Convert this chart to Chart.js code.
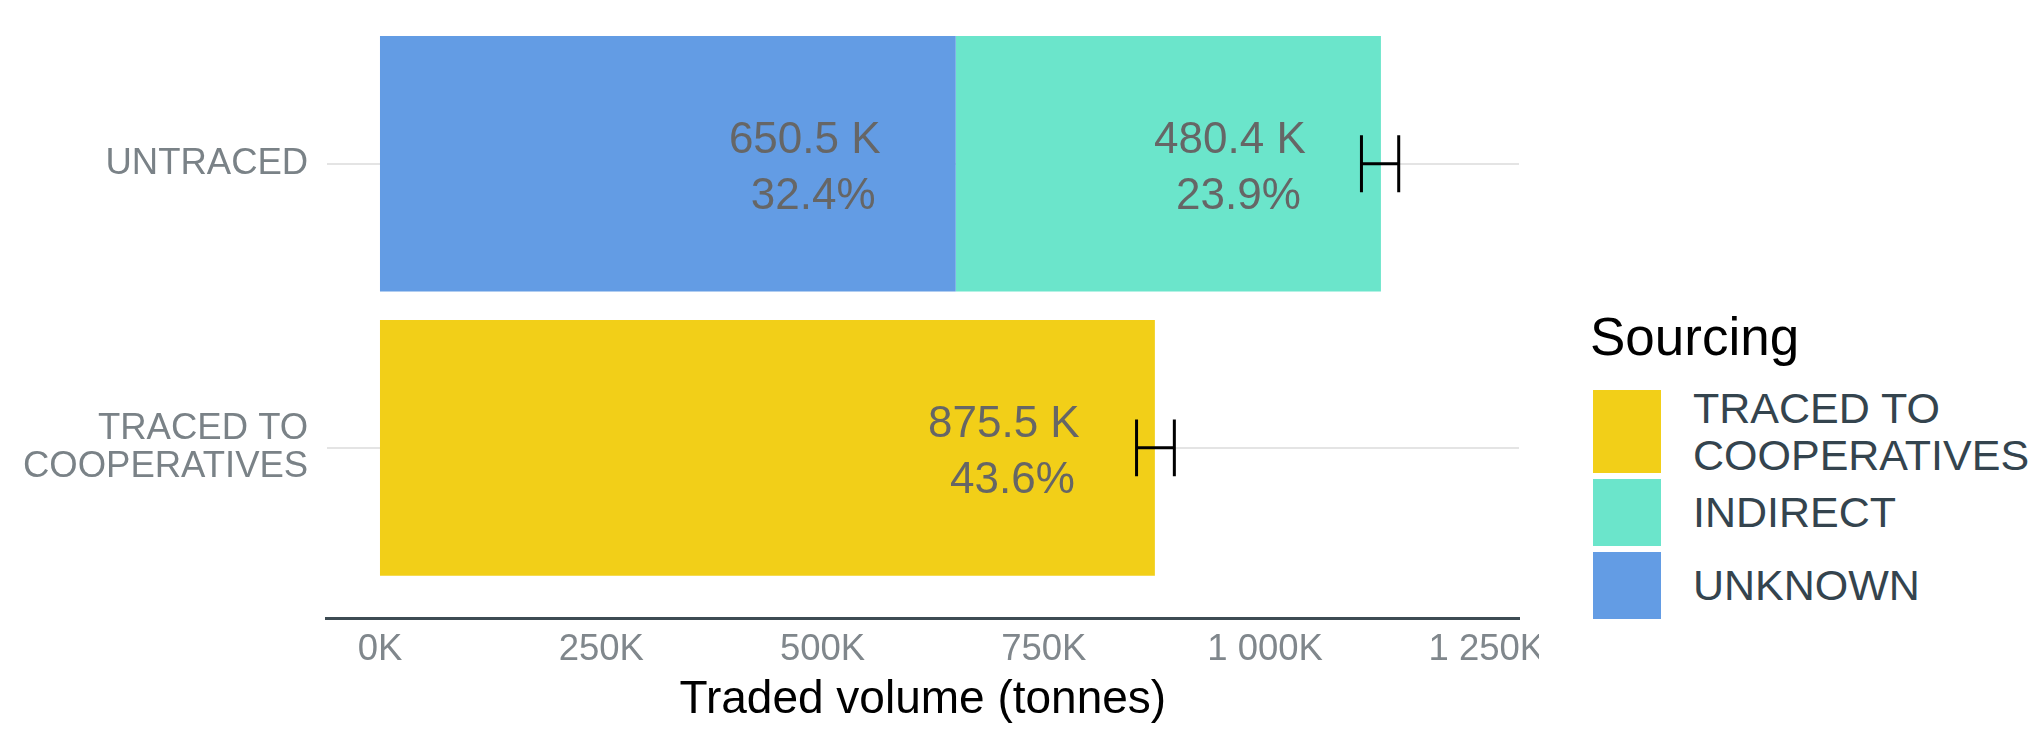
<!DOCTYPE html>
<html>
<head>
<meta charset="utf-8">
<script src="https://cdn.jsdelivr.net/npm/chart.js@4.4.1/dist/chart.umd.min.js"></script>
<style>
  html, body { margin: 0; padding: 0; background: #ffffff; }
  body { width: 2041px; height: 730px; position: relative; overflow: hidden; font-family: "Liberation Sans", Arial, sans-serif; }
  #clip { position: absolute; left: 0; top: 0; width: 1539px; height: 730px; overflow: hidden; }
  #holder { position: absolute; left: 0; top: 0; width: 1600px; height: 730px; }
  #legend { position: absolute; left: 1593px; top: 0; }
  #legend .title { position: absolute; left: -3px; top: 310px; font-size: 53px; line-height: 53px; color: #000000; white-space: nowrap; }
  #legend .item { position: absolute; left: 0; display: flex; align-items: center; }
  #legend .sw { width: 68px; flex: none; }
  #legend .lab { position: absolute; left: 100px; font-size: 43px; line-height: 47px; color: #34444e; white-space: nowrap; }
</style>
</head>
<body>
<div id="clip"><div id="holder"><canvas id="c"></canvas></div></div>
<div id="legend"></div>
<script>
// ---- data ----
const categories = ['TRACED TO COOPERATIVES', 'UNTRACED'];
const categoryPositions = [1, 2];
const categoryTickLabels = [['TRACED TO', 'COOPERATIVES'], 'UNTRACED'];

const seriesNames = ['UNKNOWN', 'INDIRECT', 'TRACED TO COOPERATIVES'];
const unknownValues = [null, 650.5];
const indirectValues = [null, 480.4];
const tracedValues = [875.5, null];

const unknownPct = [null, '32.4%'];
const indirectPct = [null, '23.9%'];
const tracedPct = ['43.6%', null];

const errorLow = [854.8, 1108.9];
const errorHigh = [897.5, 1151.0];

const xTickValues = [0, 250, 500, 750, 1000, 1250];
const xTickLabels = ['0K', '250K', '500K', '750K', '1 000K', '1 250K'];

const legendNames = [['TRACED TO', 'COOPERATIVES'], ['INDIRECT'], ['UNKNOWN']];

// ---- styles ----
const COLORS = { unknown: '#639ce4', indirect: '#6be5cb', traced: '#f2cf18' };
const FONT = '"Liberation Sans", Arial, sans-serif';

function toPoints(vals) {
  return categoryPositions.map((p, i) => vals[i] == null ? null : ({ x: vals[i], y: p })).filter(d => d);
}
function toPct(arr) { return arr.filter(v => v != null); }

const datasets = [
  { label: seriesNames[0], data: toPoints(unknownValues), backgroundColor: COLORS.unknown, pct: toPct(unknownPct) },
  { label: seriesNames[1], data: toPoints(indirectValues), backgroundColor: COLORS.indirect, pct: toPct(indirectPct) },
  { label: seriesNames[2], data: toPoints(tracedValues), backgroundColor: COLORS.traced, pct: toPct(tracedPct) }
];

const labelPlugin = {
  id: 'barLabels',
  afterDatasetsDraw(chart) {
    const ctx = chart.ctx;
    ctx.save();
    ctx.font = '44px ' + FONT;
    ctx.fillStyle = '#666666';
    ctx.textAlign = 'center';
    ctx.textBaseline = 'alphabetic';
    chart.data.datasets.forEach((ds, di) => {
      const meta = chart.getDatasetMeta(di);
      meta.data.forEach((el, j) => {
        const v = ds.data[j].x;
        ctx.fillText(v.toFixed(1) + ' K', el.x - 151, el.y - 11);
        ctx.fillText(ds.pct[j], el.x - 142.5, el.y + 45);
      });
    });
    ctx.restore();
  }
};

const errorPlugin = {
  id: 'errorBars',
  afterDatasetsDraw(chart) {
    const ctx = chart.ctx;
    const xs = chart.scales.x, ys = chart.scales.y;
    ctx.save();
    ctx.strokeStyle = '#000000';
    ctx.lineWidth = 3;
    categoryPositions.forEach((p, i) => {
      const x1 = xs.getPixelForValue(errorLow[i]);
      const x2 = xs.getPixelForValue(errorHigh[i]);
      const yc = ys.getPixelForValue(p);
      const yt = ys.getPixelForValue(p + 0.1);
      const yb = ys.getPixelForValue(p - 0.1);
      ctx.beginPath();
      ctx.moveTo(x1, yt); ctx.lineTo(x1, yb);
      ctx.moveTo(x2, yt); ctx.lineTo(x2, yb);
      ctx.moveTo(x1, yc); ctx.lineTo(x2, yc);
      ctx.stroke();
    });
    ctx.restore();
  }
};

new Chart(document.getElementById('c'), {
  type: 'bar',
  data: { datasets },
  options: {
    indexAxis: 'y',
    responsive: true,
    maintainAspectRatio: false,
    animation: false,
    devicePixelRatio: 1,
    categoryPercentage: 1.0,
    barPercentage: 0.9,
    layout: { padding: { left: 0, right: 81, top: 0, bottom: 0 } },
    plugins: { legend: { display: false }, tooltip: { enabled: false } },
    scales: {
      x: {
        type: 'linear',
        stacked: true,
        offset: false,
        min: -60.2,
        max: 1286.9,
        afterBuildTicks: (s) => { s.ticks = xTickValues.map(v => ({ value: v })); },
        afterFit: (s) => { s.height = 111.7; s.paddingLeft = 0; s.paddingRight = 0; },
        grid: { display: false, drawTicks: false, offset: false },
        border: { display: true, color: '#3d4b53', width: 3 },
        ticks: {
          padding: 10,
          color: '#80878c',
          font: { family: FONT, size: 36.5 },
          maxRotation: 0,
          autoSkip: false,
          callback: (v) => { const k = xTickValues.indexOf(v); return k >= 0 ? xTickLabels[k] : ''; }
        },
        title: {
          display: true,
          text: 'Traded volume (tonnes)',
          color: '#000000',
          font: { family: FONT, size: 46 },
          padding: { top: 0, bottom: 2 }
        }
      },
      y: {
        type: 'linear',
        stacked: true,
        offset: false,
        min: 0.4,
        max: 2.5765,
        afterBuildTicks: (s) => { s.ticks = categoryPositions.map(v => ({ value: v })); },
        afterFit: (s) => { s.width = 326.7; s.paddingTop = 0; s.paddingBottom = 0; },
        grid: { display: true, drawTicks: false, offset: false, color: '#e4e4e4', lineWidth: 2 },
        border: { display: false },
        ticks: {
          padding: 18.5,
          color: '#7a8287',
          font: { family: FONT, size: 36.5, lineHeight: 1.05 },
          autoSkip: false,
          callback: (v) => { const k = categoryPositions.indexOf(v); return k >= 0 ? categoryTickLabels[k] : ''; }
        }
      }
    }
  },
  plugins: [labelPlugin, errorPlugin]
});

// ---- legend (HTML) ----
const legend = document.getElementById('legend');
const legendColors = [COLORS.traced, COLORS.indirect, COLORS.unknown];
const swatchTops = [390, 479, 552];
const swatchHeights = [83, 67, 67];
const t = document.createElement('div');
t.className = 'title';
t.textContent = 'Sourcing';
legend.appendChild(t);
legendNames.forEach((lines, i) => {
  const item = document.createElement('div');
  item.className = 'item';
  item.style.top = swatchTops[i] + 'px';
  item.style.height = swatchHeights[i] + 'px';
  const sw = document.createElement('div');
  sw.className = 'sw';
  sw.style.height = swatchHeights[i] + 'px';
  sw.style.background = legendColors[i];
  item.appendChild(sw);
  const lab = document.createElement('div');
  lab.className = 'lab';
  lab.innerHTML = lines.join('<br>');
  item.appendChild(lab);
  legend.appendChild(item);
});
</script>
</body>
</html>
